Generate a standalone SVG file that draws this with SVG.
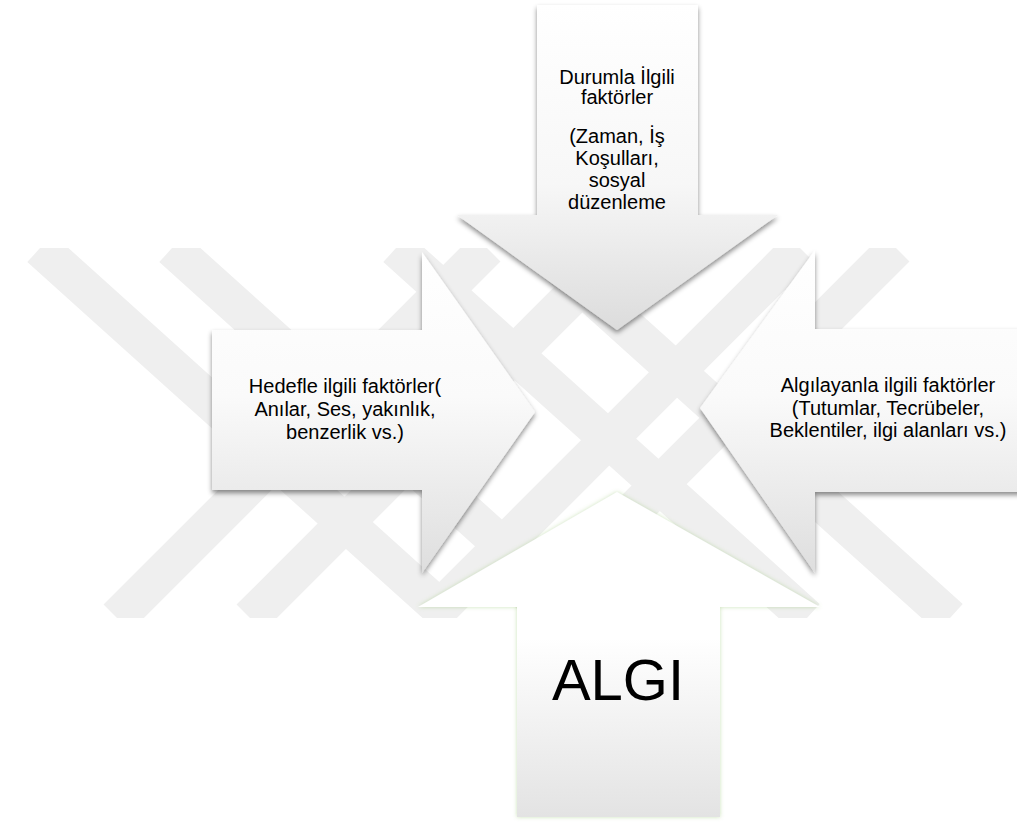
<svg xmlns="http://www.w3.org/2000/svg" width="1017" height="822" viewBox="0 0 1017 822">
  <style>
    .lbl { font-family: "Liberation Sans", Arial, sans-serif; font-size: 20px; fill: #000; text-anchor: middle; }
    .big { font-family: "Liberation Sans", Arial, sans-serif; font-size: 58px; fill: #000; text-anchor: middle; }
    .band { stroke: #efefef; stroke-width: 38; fill: none; }
  </style>
  <defs>
    <clipPath id="wmClip"><rect x="0" y="248" width="1017" height="370"/></clipPath>
    <linearGradient id="gTop" x1="0" y1="0" x2="0" y2="1">
      <stop offset="0" stop-color="#ffffff"/>
      <stop offset="0.55" stop-color="#f7f7f7"/>
      <stop offset="1" stop-color="#dcdcdc"/>
    </linearGradient>
    <linearGradient id="gSide" x1="0" y1="0" x2="0" y2="1">
      <stop offset="0" stop-color="#ffffff"/>
      <stop offset="0.45" stop-color="#fafafa"/>
      <stop offset="1" stop-color="#dedede"/>
    </linearGradient>
    <linearGradient id="gAlgi" x1="0" y1="0" x2="0" y2="1">
      <stop offset="0" stop-color="#ffffff"/>
      <stop offset="0.45" stop-color="#ffffff"/>
      <stop offset="1" stop-color="#e3e3e3"/>
    </linearGradient>
    <filter id="shadow" x="-10%" y="-10%" width="120%" height="125%">
      <feDropShadow dx="0" dy="3" stdDeviation="2.5" flood-color="#000" flood-opacity="0.45"/>
    </filter>
    <filter id="glow" x="-10%" y="-10%" width="120%" height="120%">
      <feDropShadow dx="0" dy="0" stdDeviation="2" flood-color="#8cc063" flood-opacity="0.45"/>
    </filter>
  </defs>

  <rect width="1017" height="822" fill="#ffffff"/>

  <g id="watermark" clip-path="url(#wmClip)">
    <line class="band" x1="40" y1="248" x2="451" y2="618"/>
    <line class="band" x1="172" y1="248" x2="583" y2="618"/>
    <line class="band" x1="396" y1="248" x2="807" y2="618"/>
    <line class="band" x1="539" y1="248" x2="950" y2="618"/>
    <line class="band" x1="487" y1="248" x2="117" y2="618"/>
    <line class="band" x1="620" y1="248" x2="250" y2="618"/>
    <line class="band" x1="800" y1="248" x2="430" y2="618"/>
    <line class="band" x1="896" y1="248" x2="526" y2="618"/>
  </g>

  <g id="connectors"></g>

  <g id="node-algi">
    <path d="M517,817 V607 H418 L617,492 L820,607 H720 V817 Z" fill="url(#gAlgi)" filter="url(#glow)"/>
    <text class="big" x="618" y="700">ALGI</text>
  </g>

  <g id="node-durum">
    <path d="M537,5 H698 V215 H778 L617,330 L457,215 H537 Z" fill="url(#gTop)" filter="url(#shadow)"/>
    <text class="lbl" x="617" y="84">Durumla İlgili</text>
    <text class="lbl" x="617" y="104">faktörler</text>
    <text class="lbl" x="617" y="143">(Zaman, İş</text>
    <text class="lbl" x="617" y="165">Koşulları,</text>
    <text class="lbl" x="617" y="187">sosyal</text>
    <text class="lbl" x="617" y="209">düzenleme</text>
  </g>

  <g id="node-hedef">
    <path d="M212,330 H422 V252 L535,412 L422,573 V490 H212 Z" fill="url(#gSide)" filter="url(#shadow)"/>
    <text class="lbl" x="345" y="393">Hedefle ilgili faktörler(</text>
    <text class="lbl" x="345" y="416">Anılar, Ses, yakınlık,</text>
    <text class="lbl" x="345" y="439">benzerlik vs.)</text>
  </g>

  <g id="node-algilayan">
    <path d="M1030,329 H815 V250 L700,408 L815,573 V492 H1030 Z" fill="url(#gSide)" filter="url(#shadow)"/>
    <text class="lbl" x="888" y="392">Algılayanla ilgili faktörler</text>
    <text class="lbl" x="888" y="415">(Tutumlar, Tecrübeler,</text>
    <text class="lbl" x="888" y="437">Beklentiler, ilgi alanları vs.)</text>
  </g>
</svg>
